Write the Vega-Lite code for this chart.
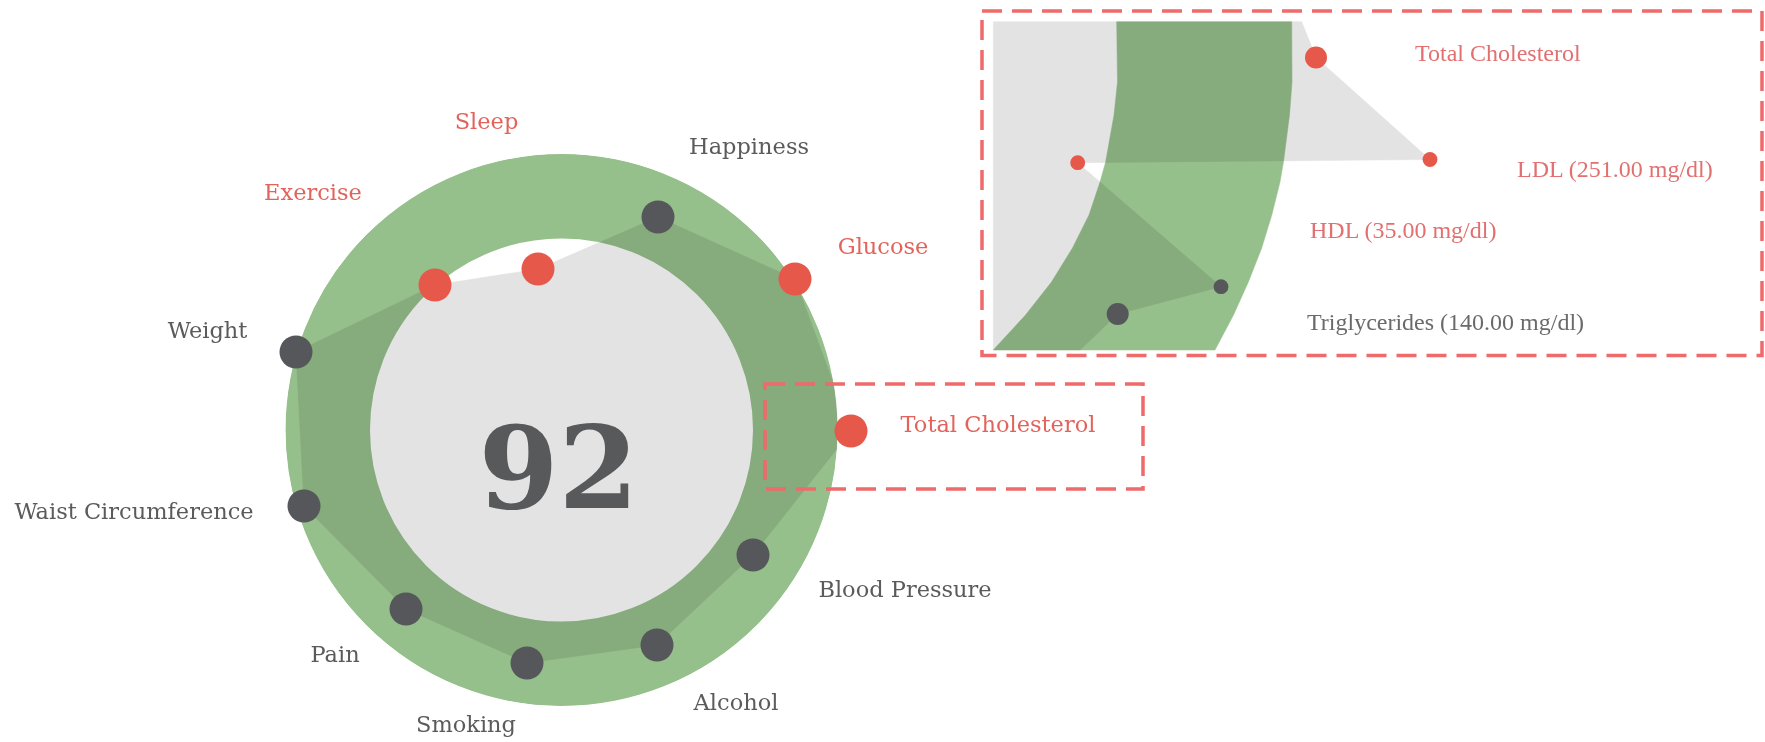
{
  "$schema": "https://vega.github.io/schema/vega-lite/v6.json",
  "width": 1765,
  "height": 742,
  "autosize": {"type": "none"},
  "padding": 0,
  "background": "white",
  "config": {"view": {"stroke": null}},
  "datasets": {
    "center": [{"x": 561.5, "y": 430}],
    "indicators": [
      {"seq": 1, "name": "Sleep", "x": 538, "y": 269, "status": "alert"},
      {"seq": 2, "name": "Happiness", "x": 658, "y": 217, "status": "normal"},
      {"seq": 3, "name": "Glucose", "x": 795, "y": 279, "status": "alert"},
      {"seq": 4, "name": "Total Cholesterol", "x": 851, "y": 431, "status": "alert"},
      {"seq": 5, "name": "Blood Pressure", "x": 753, "y": 555, "status": "normal"},
      {"seq": 6, "name": "Alcohol", "x": 657, "y": 645, "status": "normal"},
      {"seq": 7, "name": "Smoking", "x": 527, "y": 663, "status": "normal"},
      {"seq": 8, "name": "Pain", "x": 406, "y": 609, "status": "normal"},
      {"seq": 9, "name": "Waist Circumference", "x": 304, "y": 506, "status": "normal"},
      {"seq": 10, "name": "Weight", "x": 296, "y": 352, "status": "normal"},
      {"seq": 11, "name": "Exercise", "x": 435, "y": 285, "status": "alert"}
    ],
    "labels": [
      {"name": "Sleep", "x": 486.5, "y": 128.5, "status": "alert"},
      {"name": "Happiness", "x": 749, "y": 154, "status": "normal"},
      {"name": "Glucose", "x": 883, "y": 254, "status": "alert"},
      {"name": "Total Cholesterol", "x": 998, "y": 431.5, "status": "alert"},
      {"name": "Blood Pressure", "x": 905, "y": 596.5, "status": "normal"},
      {"name": "Alcohol", "x": 736, "y": 710, "status": "normal"},
      {"name": "Smoking", "x": 466, "y": 731.5, "status": "normal"},
      {"name": "Pain", "x": 335, "y": 661.5, "status": "normal"},
      {"name": "Waist Circumference", "x": 134, "y": 519, "status": "normal"},
      {"name": "Weight", "x": 207.5, "y": 337.5, "status": "normal"},
      {"name": "Exercise", "x": 313, "y": 200, "status": "alert"}
    ],
    "insetGray": [
      {"seq": 1, "x": 993.3, "y": 21.7},
      {"seq": 2, "x": 1301.7, "y": 21.7},
      {"seq": 3, "x": 1316, "y": 57.5},
      {"seq": 4, "x": 1430, "y": 159.5},
      {"seq": 5, "x": 1077.7, "y": 162.7},
      {"seq": 6, "x": 1221, "y": 286.7},
      {"seq": 7, "x": 1117.7, "y": 314},
      {"seq": 8, "x": 1080, "y": 350},
      {"seq": 9, "x": 993.3, "y": 350}
    ],
    "insetBand": [
      {"seq": 1, "x": 1116.7, "y": 21.7},
      {"seq": 2, "x": 1117.5, "y": 82},
      {"seq": 3, "x": 1114, "y": 115},
      {"seq": 4, "x": 1105.7, "y": 161.7},
      {"seq": 5, "x": 1100, "y": 182},
      {"seq": 6, "x": 1089, "y": 215},
      {"seq": 7, "x": 1072.5, "y": 248},
      {"seq": 8, "x": 1051.5, "y": 282},
      {"seq": 9, "x": 1025.5, "y": 315},
      {"seq": 10, "x": 993.3, "y": 350},
      {"seq": 11, "x": 1215, "y": 350},
      {"seq": 12, "x": 1233.5, "y": 315},
      {"seq": 13, "x": 1248.5, "y": 281.7},
      {"seq": 14, "x": 1261.7, "y": 248},
      {"seq": 15, "x": 1271.8, "y": 215},
      {"seq": 16, "x": 1280, "y": 182},
      {"seq": 17, "x": 1283.5, "y": 161.7},
      {"seq": 18, "x": 1289.5, "y": 115},
      {"seq": 19, "x": 1292, "y": 82},
      {"seq": 20, "x": 1291.7, "y": 21.7}
    ],
    "insetDots": [
      {"name": "Total Cholesterol", "x": 1316, "y": 57.5, "status": "alert", "tier": "primary"},
      {"name": "LDL", "x": 1430, "y": 159.5, "status": "alert", "tier": "secondary"},
      {"name": "HDL", "x": 1077.7, "y": 162.7, "status": "alert", "tier": "secondary"},
      {"name": "Triglycerides (upper)", "x": 1221, "y": 286.7, "status": "normal", "tier": "secondary"},
      {"name": "Triglycerides", "x": 1117.7, "y": 314, "status": "normal", "tier": "primary"}
    ],
    "insetLabels": [
      {"text": "Total Cholesterol", "x": 1415, "y": 60.5, "status": "alert"},
      {"text": "LDL (251.00 mg/dl)", "x": 1517, "y": 177, "status": "alert"},
      {"text": "HDL (35.00 mg/dl)", "x": 1310, "y": 238, "status": "alert"},
      {"text": "Triglycerides (140.00 mg/dl)", "x": 1307, "y": 330, "status": "normal"}
    ],
    "boxes": [
      {"box": "focus", "x": 765, "x2": 1143, "y": 384, "y2": 489},
      {"box": "zoom", "x": 982, "x2": 1762, "y": 11, "y2": 355.5}
    ],
    "score": [{"score": "92", "x": 558.5, "y": 508}]
  },
  "encoding": {
    "x": {"field": "x", "type": "quantitative", "scale": {"domain": [0, 1765], "nice": false, "zero": false}, "axis": null},
    "y": {"field": "y", "type": "quantitative", "scale": {"domain": [0, 742], "nice": false, "zero": false, "reverse": true}, "axis": null}
  },
  "layer": [
    {
      "data": {"name": "indicators"},
      "mark": {"type": "line", "interpolate": "linear-closed", "fill": "#e3e3e3", "stroke": "#e3e3e3", "strokeWidth": 0.5},
      "encoding": {"order": {"field": "seq", "type": "quantitative"}}
    },
    {
      "data": {"name": "center"},
      "mark": {"type": "point", "shape": "circle", "filled": false, "stroke": "#96c08b", "strokeWidth": 84.5, "size": 218556, "opacity": 1, "blend": "multiply"}
    },
    {
      "data": {"name": "center"},
      "mark": {"type": "point", "shape": "circle", "filled": false, "stroke": "white", "strokeWidth": 30, "size": 339423, "opacity": 1}
    },
    {
      "data": {"name": "insetGray"},
      "mark": {"type": "line", "interpolate": "linear-closed", "fill": "#e3e3e3", "stroke": "#e3e3e3", "strokeWidth": 0.5},
      "encoding": {"order": {"field": "seq", "type": "quantitative"}}
    },
    {
      "data": {"name": "insetBand"},
      "mark": {"type": "line", "interpolate": "linear-closed", "fill": "#96c08b", "stroke": "#96c08b", "strokeWidth": 0.5, "blend": "multiply"},
      "encoding": {"order": {"field": "seq", "type": "quantitative"}}
    },
    {
      "data": {"name": "boxes"},
      "mark": {"type": "rect", "fill": "transparent", "stroke": "#ef6a6a", "strokeWidth": 3.5, "strokeDash": [20, 10]},
      "encoding": {
        "x2": {"field": "x2"},
        "y2": {"field": "y2"}
      }
    },
    {
      "data": {"name": "indicators"},
      "mark": {"type": "point", "shape": "circle", "filled": true, "size": 1089, "opacity": 1, "strokeWidth": 0},
      "encoding": {
        "color": {"condition": {"test": "datum.status === 'alert'", "value": "#e5584a"}, "value": "#55575a"}
      }
    },
    {
      "data": {"name": "insetDots"},
      "mark": {"type": "point", "shape": "circle", "filled": true, "opacity": 1, "strokeWidth": 0},
      "encoding": {
        "color": {"condition": {"test": "datum.status === 'alert'", "value": "#e5584a"}, "value": "#55575a"},
        "size": {"field": "tier", "type": "ordinal", "scale": {"domain": ["primary", "secondary"], "range": [484, 220]}, "legend": null}
      }
    },
    {
      "data": {"name": "labels"},
      "mark": {"type": "text", "font": "DejaVu Serif", "fontSize": 22.5, "align": "center", "baseline": "alphabetic"},
      "encoding": {
        "text": {"field": "name"},
        "color": {"condition": {"test": "datum.status === 'alert'", "value": "#e2635b"}, "value": "#5b5b5b"}
      }
    },
    {
      "data": {"name": "insetLabels"},
      "mark": {"type": "text", "font": "Liberation Serif", "fontSize": 24, "align": "left", "baseline": "alphabetic"},
      "encoding": {
        "text": {"field": "text"},
        "color": {"condition": {"test": "datum.status === 'alert'", "value": "#e27070"}, "value": "#6a6a6a"}
      }
    },
    {
      "data": {"name": "score"},
      "mark": {"type": "text", "font": "DejaVu Serif", "fontWeight": "bold", "fontSize": 115, "align": "center", "baseline": "alphabetic", "color": "#58595b"},
      "encoding": {"text": {"field": "score"}}
    }
  ]
}
